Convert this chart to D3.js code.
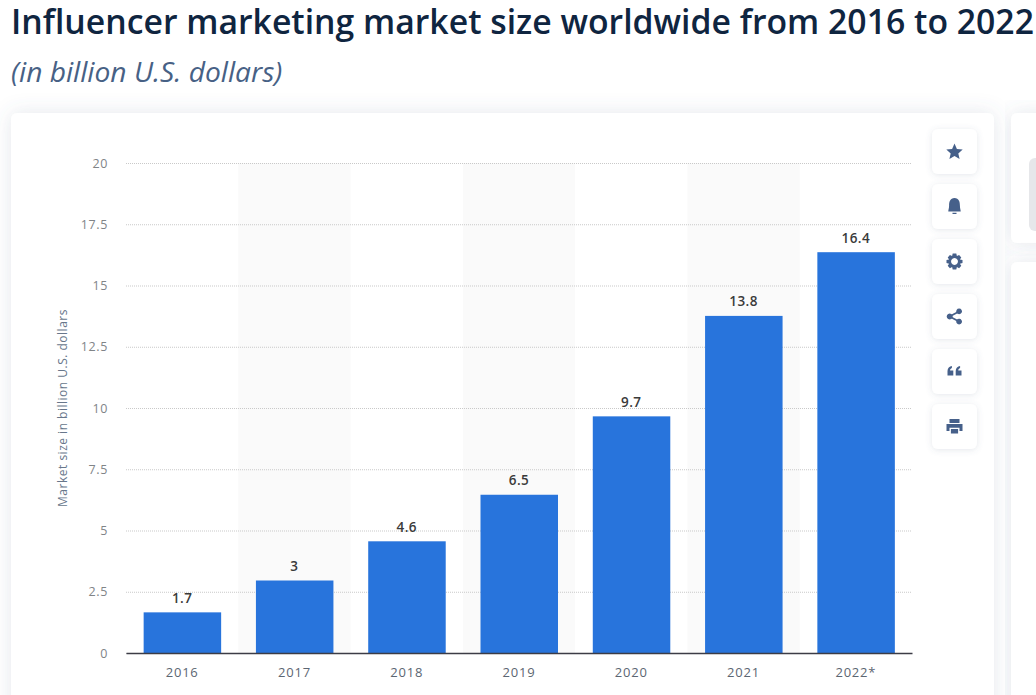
<!DOCTYPE html>
<html>
<head>
<meta charset="utf-8">
<script src="https://cdn.jsdelivr.net/npm/d3@7"></script>
<style>
html, body { margin: 0; padding: 0; background: #fff; overflow: hidden; }
svg { display: block; font-family: "Open Sans", sans-serif; }
svg g, svg text { font-family: "Open Sans", sans-serif; }
</style>
</head>
<body>
<div id="chart"></div>
<script>
// Data
var years = ['2016', '2017', '2018', '2019', '2020', '2021', '2022*'];
var marketSize = [1.7, 3, 4.6, 6.5, 9.7, 13.8, 16.4];
var yTicks = [0, 2.5, 5, 7.5, 10, 12.5, 15, 17.5, 20];

var width = 1036, height = 695;
var svg = d3.select('#chart').append('svg').attr('width', width).attr('height', height);

var defs = svg.append('defs');
var shadow = defs.append('filter').attr('id', 'soft').attr('x', '-10%').attr('y', '-10%').attr('width', '120%').attr('height', '120%');
shadow.append('feDropShadow').attr('dx', 0).attr('dy', 0).attr('stdDeviation', 10)
      .attr('flood-color', '#5b6b85').attr('flood-opacity', 0.16);
var btnShadow = defs.append('filter').attr('id', 'btn').attr('x', '-30%').attr('y', '-30%').attr('width', '160%').attr('height', '160%');
btnShadow.append('feDropShadow').attr('dx', 0).attr('dy', 1).attr('stdDeviation', 3)
      .attr('flood-color', '#5b6b85').attr('flood-opacity', 0.16);

// Heading
svg.append('text').attr('x', 11).attr('y', 34).text('Influencer marketing market size worldwide from 2016 to 2022')
   .style('font-size', '33.75px').style('font-weight', 600).attr('fill', '#0f2540');
svg.append('text').attr('x', 11).attr('y', 82).text('(in billion U.S. dollars)')
   .style('font-size', '28.2px').style('font-style', 'italic').attr('fill', '#476185');

// Cards
var cards = [[11, 113, 983, 640], [1011, 113, 60, 130], [1011, 262, 60, 500]];
svg.selectAll('rect.card').data(cards).enter().append('rect').attr('class', 'card')
   .attr('x', d => d[0]).attr('y', d => d[1]).attr('width', d => d[2]).attr('height', d => d[3])
   .attr('rx', 6).attr('fill', '#fff').attr('filter', 'url(#soft)');
svg.append('rect').attr('x', 1029).attr('y', 158).attr('width', 30).attr('height', 73).attr('rx', 6).attr('fill', '#e6e7ea');

// Scales
var x = d3.scaleBand().domain(years).range([126, 912]);
var y = d3.scaleLinear().domain([0, 20]).range([653, 163]);
var barW = 78;

// Alternating bands
svg.selectAll('rect.band').data(years.filter((d, i) => i % 2 == 1)).enter().append('rect').attr('class', 'band')
   .attr('x', d => x(d)).attr('y', y(20)).attr('width', x.bandwidth()).attr('height', y(0) - y(20))
   .attr('fill', '#fafafa');

// Y axis with dotted grid
var yAxis = svg.append('g').attr('transform', 'translate(126,0)')
   .call(d3.axisLeft(y).tickValues(yTicks).tickSize(-786).tickPadding(18).tickFormat(d => d));
yAxis.select('.domain').remove();
yAxis.selectAll('line').attr('stroke', '#c9c9c9').attr('stroke-dasharray', '1,1');
yAxis.selectAll('text').style('font-size', '12.5px').style('letter-spacing', '0.6px').attr('fill', '#808487');

svg.append('text').attr('transform', 'translate(67,408) rotate(-90)').attr('text-anchor', 'middle')
   .text('Market size in billion U.S. dollars').style('font-size', '12px').style('letter-spacing', '0.5px').attr('fill', '#68778b');

// Bars
var data = d3.zip(years, marketSize);
svg.selectAll('rect.bar').data(data).enter().append('rect').attr('class', 'bar')
   .attr('x', d => x(d[0]) + (x.bandwidth() - barW) / 2 + 0.5).attr('y', d => y(d[1]) + 1)
   .attr('width', barW - 0.5).attr('height', d => y(0) - y(d[1]) - 1)
   .attr('fill', '#2874dc');

svg.selectAll('text.val').data(data).enter().append('text').attr('class', 'val')
   .attr('x', d => x(d[0]) + x.bandwidth() / 2).attr('y', d => y(d[1]) - 8.5).attr('text-anchor', 'middle')
   .text(d => d[1]).style('font-size', '13.5px').style('font-weight', 600).style('letter-spacing', '0.4px').attr('fill', '#3a3a3a');

// X axis
var xAxis = svg.append('g').attr('transform', 'translate(0,653)')
   .call(d3.axisBottom(x).tickSize(0).tickPadding(15));
xAxis.select('.domain').attr('stroke', '#3c3c46').attr('stroke-width', 1.4);
xAxis.selectAll('text').style('font-size', '13px').style('letter-spacing', '0.8px').attr('fill', '#5c6672');

// Side buttons
var icons = [
  'M0,-8 L2.4,-2.6 L8.2,-2 L3.8,1.9 L5.1,7.6 L0,4.6 L-5.1,7.6 L-3.8,1.9 L-8.2,-2 L-2.4,-2.6 Z',
  'M0,-8.5 C4.4,-8.5 5.4,-4.5 5.4,-1 C5.4,2 6.2,3 6.2,5 L-6.2,5 C-6.2,3 -5.4,2 -5.4,-1 C-5.4,-4.5 -4.4,-8.5 0,-8.5 Z M-2,6.2 L2,6.2 L2,7.4 L-2,7.4 Z',
  'M-1.8,-8 L1.8,-8 L2.4,-5.6 L4.6,-6.6 L6.8,-4 L5.4,-2 L8,-1.4 L8,1.6 L5.4,2.2 L6.8,4.2 L4.6,6.8 L2.4,5.6 L1.8,8 L-1.8,8 L-2.4,5.6 L-4.6,6.8 L-6.8,4.2 L-5.4,2.2 L-8,1.6 L-8,-1.4 L-5.4,-2 L-6.8,-4 L-4.6,-6.6 L-2.4,-5.6 Z M0,-3.4 A3.4,3.4 0 1,0 0.01,-3.4 Z',
  'M-4.8,-3 A3,3 0 1,0 -4.79,-3 Z M4.6,-8 A2.9,2.9 0 1,0 4.61,-8 Z M4.6,2.2 A2.9,2.9 0 1,0 4.61,2.2 Z',
  'M-7,-0.5 C-7,-3.5 -5,-5 -2.6,-5.4 L-2.6,-3.4 C-3.8,-3 -4.4,-2.2 -4.4,-1 L-1.2,-1 L-1.2,4 L-7,4 Z M1.2,-0.5 C1.2,-3.5 3.2,-5 5.6,-5.4 L5.6,-3.4 C4.4,-3 3.8,-2.2 3.8,-1 L7,-1 L7,4 L1.2,4 Z',
  'M-5,-7.5 L5,-7.5 L5,-3.6 L-5,-3.6 Z M-8,-2.4 L8,-2.4 L8,4.4 L5,4.4 L5,1.2 L-5,1.2 L-5,4.4 L-8,4.4 Z M-3.6,2.6 L3.6,2.6 L3.6,7 L-3.6,7 Z'
];
var btnY = d3.range(6).map(i => 151.5 + i * 55);
var btns = svg.selectAll('g.btn').data(icons).enter().append('g').attr('class', 'btn')
   .attr('transform', (d, i) => 'translate(954.5,' + btnY[i] + ')');
btns.append('rect').attr('x', -22.5).attr('y', -22.5).attr('width', 45).attr('height', 45).attr('rx', 6)
    .attr('fill', '#fff').attr('filter', 'url(#btn)');
btns.append('path').attr('d', d => d).attr('fill', '#46608a').attr('fill-rule', 'evenodd');
// share icon connectors
btns.filter((d, i) => i == 3).append('path').attr('d', 'M-5,0 L4.6,-5 M-5,0 L4.6,5')
    .attr('fill', 'none').attr('stroke', '#46608a').attr('stroke-width', 1.8);
</script>
</body>
</html>
